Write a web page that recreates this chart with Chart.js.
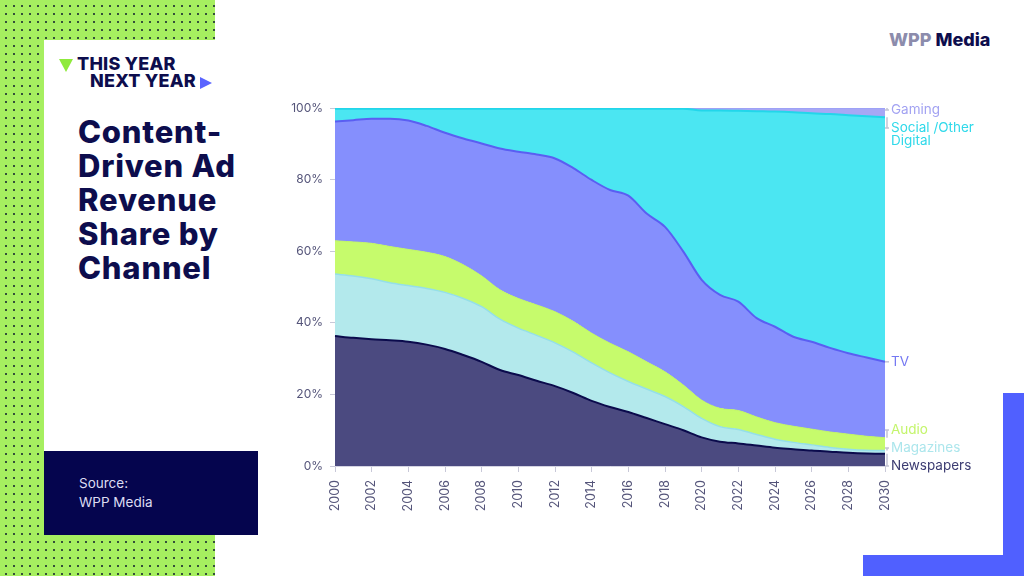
<!DOCTYPE html>
<html>
<head>
<meta charset="utf-8">
<script src="https://cdn.jsdelivr.net/npm/chart.js@4"></script>
<style>
  html, body { margin: 0; padding: 0; }
  body { width: 1024px; height: 576px; position: relative; overflow: hidden; background: #fff; font-family: Inter, Lato, sans-serif; }
  .dots { position: absolute; left: 0; top: 0; width: 215px; height: 576px; background-color: #a6ef60;
          background-image: radial-gradient(circle, #34503a 0.8px, transparent 1.2px); background-size: 8px 8px; background-position: 2px 2px; }
  .panel { position: absolute; left: 44px; top: 40px; width: 200px; height: 495px; background: #fff; }
  .logo { position: absolute; left: 77px; top: 56px; color: #0d0d4d; font-weight: 800; font-size: 18px; line-height: 16.5px; letter-spacing: 0.2px; }
  .logo .l2 { padding-left: 13px; }
  .tri-g { position: absolute; left: 59px; top: 59px; width: 0; height: 0; border-left: 7.5px solid transparent; border-right: 7.5px solid transparent; border-top: 13px solid #8fea3c; }
  .tri-b { position: absolute; left: 200px; top: 77px; width: 0; height: 0; border-top: 6px solid transparent; border-bottom: 6px solid transparent; border-left: 12px solid #5a64ff; }
  .title { position: absolute; left: 78px; top: 115px; color: #0d0d4d; font-weight: 800; font-size: 31px; line-height: 34px; letter-spacing: 0.8px; }
  .source { position: absolute; left: 44px; top: 451px; width: 214px; height: 84px; background: #05054e; }
  .source div { position: absolute; left: 35px; top: 23px; color: #dcdcf2; font-size: 13.5px; line-height: 19px; }
  .wpp { position: absolute; left: 889px; top: 29px; font-size: 18px; font-weight: 800; letter-spacing: 0px; }
  .wpp .a { color: #8c8cac; } .wpp .b { color: #0d0d4d; }
  .bl1 { position: absolute; left: 1003px; top: 393px; width: 21px; height: 183px; background: #5060ff; }
  .bl2 { position: absolute; left: 863px; top: 555px; width: 161px; height: 21px; background: #5060ff; }
  canvas { position: absolute; left: 0; top: 0; }
</style>
</head>
<body>
<div class="dots"></div>
<div class="panel"></div>
<div class="tri-g"></div>
<div class="logo">THIS YEAR<br><span class="l2">NEXT YEAR</span></div>
<div class="tri-b"></div>
<div class="title">Content-<br>Driven Ad<br>Revenue<br>Share by<br>Channel</div>
<div class="source"><div>Source:<br>WPP Media</div></div>
<div class="wpp"><span class="a">WPP</span> <span class="b">Media</span></div>
<div class="bl1"></div>
<div class="bl2"></div>
<canvas id="chart" width="1024" height="576"></canvas>
<script>
const years = ['2000', '2001', '2002', '2003', '2004', '2005', '2006', '2007', '2008', '2009',
               '2010', '2011', '2012', '2013', '2014', '2015', '2016', '2017', '2018', '2019',
               '2020', '2021', '2022', '2023', '2024', '2025', '2026', '2027', '2028', '2029', '2030'];

// share of content-driven ad revenue, %
const newspapers = [36.3, 35.8, 35.4, 35.1, 34.7, 33.9, 32.7, 31.0, 29.1, 26.8,
                    25.4, 23.8, 22.3, 20.4, 18.2, 16.5, 15.1, 13.4, 11.7, 10.0,
                    8.0, 6.8, 6.3, 5.7, 5.1, 4.7, 4.3, 4.0, 3.7, 3.5, 3.4];
const magazines = [17.3, 17.3, 16.9, 16.1, 15.7, 15.7, 15.8, 15.8, 15.4, 14.2,
                   13.1, 12.7, 12.1, 11.4, 10.6, 9.5, 8.5, 8.1, 7.7, 6.6,
                   5.3, 4.2, 3.9, 3.1, 2.4, 1.9, 1.6, 1.2, 1.0, 0.9, 0.9];
const audio = [9.3, 9.5, 9.9, 10.1, 10.1, 10.1, 10.0, 9.4, 8.6, 8.2,
               8.3, 8.5, 8.7, 8.6, 8.3, 8.3, 8.3, 7.6, 6.9, 6.0,
               5.1, 5.1, 5.3, 4.9, 4.6, 4.5, 4.4, 4.3, 4.2, 3.9, 3.6];
const tv = [33.3, 34.0, 34.8, 35.7, 36.0, 35.3, 34.6, 35.3, 37.0, 39.5,
            41.0, 42.0, 42.8, 42.8, 42.8, 42.8, 43.6, 41.4, 40.5, 37.3,
            33.6, 31.7, 30.4, 27.6, 26.8, 25.0, 24.4, 23.5, 22.6, 22.0, 21.2];
const social = [3.6, 3.2, 2.8, 2.8, 3.3, 4.8, 6.7, 8.3, 9.7, 11.1,
                12.0, 12.8, 13.9, 16.6, 19.9, 22.7, 24.3, 29.3, 33.0, 39.9,
                47.3, 51.5, 53.3, 57.8, 60.1, 62.7, 63.8, 65.3, 66.5, 67.4, 68.3];
const gaming = [0.2, 0.2, 0.2, 0.2, 0.2, 0.2, 0.2, 0.2, 0.2, 0.2,
                0.2, 0.2, 0.2, 0.2, 0.2, 0.2, 0.2, 0.2, 0.2, 0.2,
                0.7, 0.7, 0.8, 0.9, 1.0, 1.2, 1.5, 1.7, 2.0, 2.3, 2.6];

const seriesLabels = [['Newspapers'], ['Magazines'], ['Audio'], ['TV'], ['Social /Other', 'Digital'], ['Gaming']];
const labelColors = ['#3c3c72', '#ace6ec', '#c4f56c', '#7478f2', '#2fd9ea', '#a2a2f2'];
const fontFamily = 'Inter, Lato, sans-serif';

// labels down the right edge, pushed apart so they don't overlap
const endLabels = {
    id: 'endLabels',
    afterDatasetsDraw(chart) {
        const ctx = chart.ctx;
        const area = chart.chartArea;
        const n = chart.data.datasets.length;
        const anchors = [];
        for (let i = 0; i < n; i++) {
            const pts = chart.getDatasetMeta(i).data;
            anchors[i] = pts[pts.length - 1].y;
        }
        const pos = anchors.slice();
        const gap = 18;
        // top-down pass
        pos[n - 1] = Math.max(pos[n - 1], area.top + 2);
        for (let i = n - 2; i >= 0; i--) pos[i] = Math.max(pos[i], pos[i + 1] + gap);
        // bottom-up pass
        pos[0] = Math.min(pos[0], area.bottom);
        for (let i = 1; i < n; i++) pos[i] = Math.min(pos[i], pos[i - 1] - gap);

        ctx.save();
        ctx.strokeStyle = '#c4c4d4';
        ctx.lineWidth = 1.5;
        ctx.font = '13.5px ' + fontFamily;
        ctx.textBaseline = 'middle';
        ctx.textAlign = 'left';
        for (let i = 0; i < n; i++) {
            const x = area.right;
            ctx.beginPath();
            ctx.moveTo(x + 2, anchors[i]);
            ctx.lineTo(x + 2, pos[i]);
            ctx.moveTo(x, pos[i]);
            ctx.lineTo(x + 4, pos[i]);
            ctx.stroke();
            ctx.fillStyle = labelColors[i];
            seriesLabels[i].forEach((line, k) => ctx.fillText(line, x + 6, pos[i] + k * 12.5));
        }
        ctx.restore();
    }
};

const ctx = document.getElementById('chart').getContext('2d');
new Chart(ctx, {
    type: 'line',
    data: {
        labels: years,
        datasets: [
            { label: 'Newspapers', data: newspapers, fill: 'origin', backgroundColor: '#4b4a80', borderColor: '#0b0b4c', borderWidth: 2 },
            { label: 'Magazines', data: magazines, fill: '-1', backgroundColor: '#b3e9ec', borderColor: '#95dfe8', borderWidth: 1.5 },
            { label: 'Audio', data: audio, fill: '-1', backgroundColor: '#c6fb6c', borderColor: '#c0f565', borderWidth: 1 },
            { label: 'TV', data: tv, fill: '-1', backgroundColor: '#858ffd', borderColor: '#5a5ef2', borderWidth: 2 },
            { label: 'Social /Other Digital', data: social, fill: '-1', backgroundColor: '#4be6f2', borderColor: '#22d6ea', borderWidth: 2 },
            { label: 'Gaming', data: gaming, fill: '-1', backgroundColor: '#a7a7f5', borderColor: '#9ea2f6', borderWidth: 2 }
        ]
    },
    options: {
        responsive: false,
        animation: false,
        layout: { padding: { left: 270, right: 139, top: 108, bottom: 40 } },
        elements: { line: { tension: 0.4, cubicInterpolationMode: 'monotone' }, point: { radius: 0 } },
        plugins: { legend: { display: false }, tooltip: { enabled: false } },
        scales: {
            x: {
                afterFit: scale => { scale.height = 70; },
                grid: { drawOnChartArea: false, tickLength: 6, color: ctx => ctx.index % 2 ? 'transparent' : '#c8c8d8' },
                border: { color: '#d4d4e2' },
                ticks: {
                    autoSkip: false, minRotation: 90, maxRotation: 90, padding: 8,
                    color: '#55557a', font: { family: fontFamily, size: 12.5 },
                    callback: (v, i) => i % 2 ? '' : years[i]
                }
            },
            y: {
                stacked: true, min: 0, max: 100,
                z: 1,
                afterFit: scale => { scale.width = 65; },
                grid: { color: 'rgba(90,90,140,0.07)', tickLength: 5, tickColor: '#c8c8d8' },
                border: { color: '#d4d4e2' },
                ticks: {
                    stepSize: 20, padding: 7, color: '#55557a',
                    font: { family: fontFamily, size: 12 },
                    callback: v => v + '%'
                }
            }
        }
    },
    plugins: [endLabels]
});
</script>
</body>
</html>
